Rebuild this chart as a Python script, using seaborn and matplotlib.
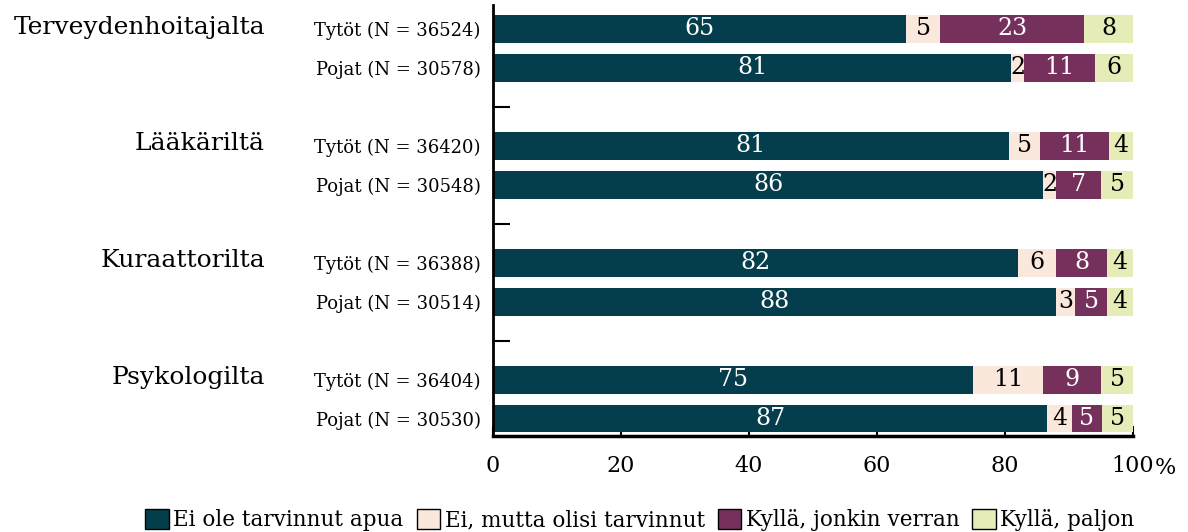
import matplotlib
matplotlib.use("Agg")
import matplotlib.pyplot as plt
import matplotlib.transforms as mtransforms
from matplotlib.patches import Patch
import numpy as np
import pandas as pd
import seaborn as sns

# categories and values (percent)
groups = ["Terveydenhoitajalta", "Lääkäriltä", "Kuraattorilta", "Psykologilta"]
row_labels = ["Tytöt (N = 36524)", "Pojat (N = 30578)",
              "Tytöt (N = 36420)", "Pojat (N = 30548)",
              "Tytöt (N = 36388)", "Pojat (N = 30514)",
              "Tytöt (N = 36404)", "Pojat (N = 30530)"]
answers = ["Ei ole tarvinnut apua", "Ei, mutta olisi tarvinnut",
           "Kyllä, jonkin verran", "Kyllä, paljon"]
ei_ole = [64.6, 81.0, 80.6, 86.0, 82.0, 88.0, 75.0, 86.6]
ei_mutta = [5.2, 2.0, 4.8, 2.0, 6.0, 3.0, 11.0, 3.8]
jonkin = [22.6, 11.0, 10.8, 7.0, 8.0, 5.0, 9.0, 4.8]
paljon = [7.6, 6.0, 3.8, 5.0, 4.0, 4.0, 5.0, 4.8]
colors = ["#043d4b", "#fbe8dc", "#76305c", "#e5ecb7"]
text_colors = ["white", "black", "white", "black"]

# row positions: two rows per group, a gap between groups
ypos = [g * 3 + i for g in range(len(groups)) for i in range(2)]
series = [ei_ole, ei_mutta, jonkin, paljon]
cum = np.cumsum(np.array(series), axis=0)

df = pd.DataFrame({"y": ypos})
for k, name in enumerate(answers):
    df[name] = cum[k]

sns.set_theme(style="white")
plt.rcParams["font.family"] = ["DejaVu Serif"]
plt.rcParams["text.color"] = "black"
plt.rcParams["xtick.color"] = "black"
plt.rcParams["ytick.color"] = "black"

fig = plt.figure(figsize=(11.88, 5.32), dpi=100)
ax = fig.add_axes([493 / 1188, 1 - 436 / 532, 640 / 1188, 431 / 532])

# stacked bars: draw cumulative totals from the largest down
for k in reversed(range(len(answers))):
    sns.barplot(data=df, x=answers[k], y="y", orient="y", native_scale=True,
                color=colors[k], saturation=1, width=0.7, ax=ax, linewidth=0)

for k in range(len(answers)):
    for j, y in enumerate(ypos):
        start = cum[k][j] - series[k][j]
        ax.text(start + series[k][j] / 2, y, f"{series[k][j]:.0f}", ha="center", va="center",
                color=text_colors[k], fontsize=17)

ax.set_xlim(0, 100)
ax.set_ylim(10.44, -0.615)
ax.set_xlabel("")
ax.set_ylabel("")

for side in ["top", "right"]:
    ax.spines[side].set_visible(False)
ax.spines["left"].set_color("black")
ax.spines["left"].set_linewidth(2)
ax.spines["bottom"].set_color("black")
ax.spines["bottom"].set_linewidth(2.5)

ax.set_xticks([0, 20, 40, 60, 80, 100])
ax.set_xticklabels(["0", "20", "40", "60", "80", "100"])
ax.tick_params(axis="x", bottom=True, direction="in", length=7, width=1.5,
               labelsize=16, pad=14)
ax.annotate("%", xy=(1.0, 0), xycoords="axes fraction", xytext=(15.5, -23),
            textcoords="offset points", ha="left", va="center", fontsize=16)

ax.set_yticks([2, 5, 8])
ax.set_yticklabels([])
ax.tick_params(axis="y", which="major", left=True, direction="in", length=12, width=1.5)
ax.set_yticks(ypos, minor=True)
ax.set_yticklabels(row_labels, minor=True)
ax.tick_params(axis="y", which="minor", left=True, length=0, pad=9, labelsize=13)

trans = mtransforms.blended_transform_factory(fig.transFigure, ax.transData)
for g, name in enumerate(groups):
    ax.text(265 / 1188, g * 3 - 0.05, name, transform=trans, ha="right", va="center",
            fontsize=18)

handles = [Patch(facecolor=c, edgecolor="black", linewidth=1) for c in colors]
fig.legend(handles, answers, loc="center", bbox_to_anchor=(640 / 1188, 12 / 532), ncol=4,
           frameon=False, fontsize=15.5, handlelength=1.1, handleheight=1.1,
           handletextpad=0.2, columnspacing=0.6)

fig.savefig("out.png", dpi=100)
